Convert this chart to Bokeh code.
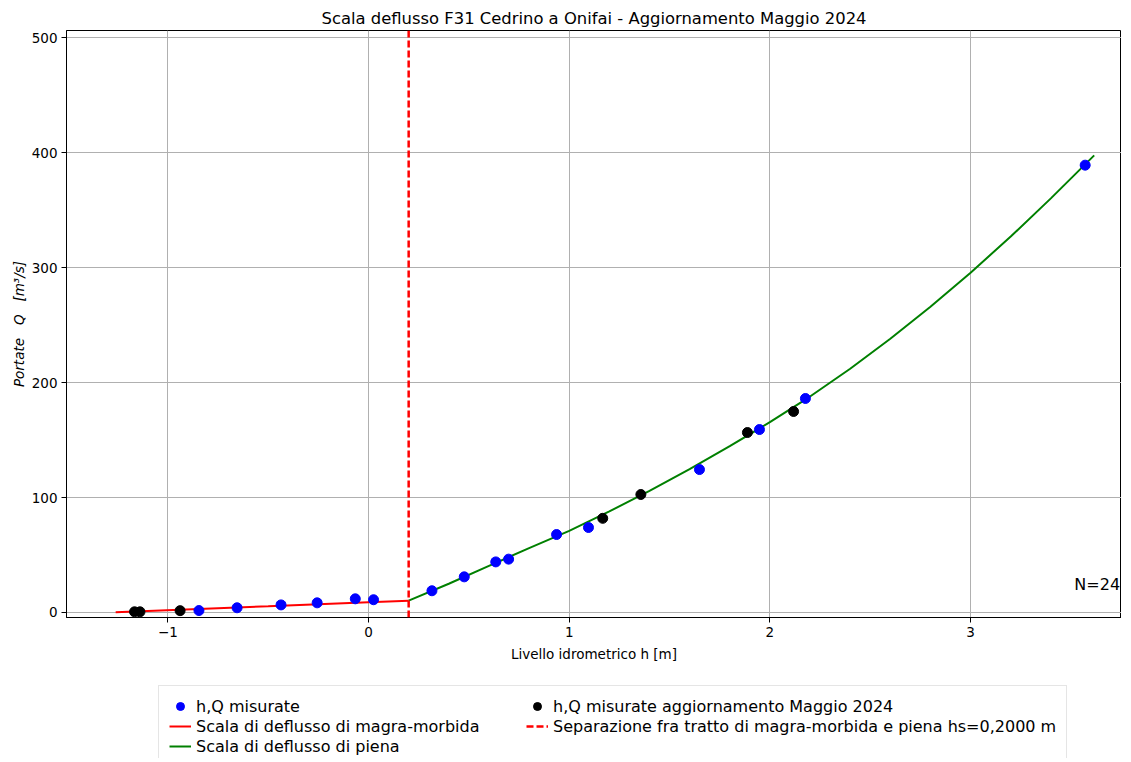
from bokeh.plotting import figure
from bokeh.layouts import column
from bokeh.models import Span, Label, Legend, LegendItem, FixedTicker, Range1d
from bokeh.embed import file_html
from bokeh.resources import INLINE

# ---- data ----
blue_h = [-0.845, -0.655, -0.436, -0.256, -0.066, 0.025, 0.316, 0.477, 0.634, 0.698, 0.937, 1.096, 1.649, 1.948, 2.177, 3.571]
blue_q = [1.7, 4.1, 6.6, 8.4, 11.9, 11.1, 18.9, 31.0, 44.0, 46.4, 67.8, 73.9, 124.3, 159.1, 186.1, 389.0]

black_h = [-1.166, -1.139, -0.939, 1.167, 1.357, 1.888, 2.118]
black_q = [0.6, 0.6, 1.6, 81.9, 102.6, 156.5, 174.8]

low_h = [-1.26, -0.5, 0.0, 0.2]
low_q = [0.3, 5.5, 9.0, 10.3]

high_h = [0.2, 0.4, 0.6, 0.8, 1.0, 1.2, 1.4, 1.6, 1.8, 2.0, 2.2, 2.4, 2.6, 2.8, 3.0, 3.2, 3.4, 3.616]
high_q = [10.3, 25.0, 40.5, 56.0, 71.0, 87.9, 105.8, 124.7, 144.6, 165.5, 187.8, 212.0, 238.0, 265.8, 295.5, 326.9, 360.1, 397.5]

HS = 0.2
N_LABEL = "N=24"
x_ticks = [-1, 0, 1, 2, 3]
y_ticks = [0, 100, 200, 300, 400, 500]

NB = "\u00a0"
TITLE = "Scala deflusso F31 Cedrino a Onifai - Aggiornamento Maggio 2024"
XLABEL = "Livello idrometrico h [m]"
YLABEL = "Portate" + NB * 3 + "Q" + NB * 3 + "[m³/s]"
labels = ["h,Q misurate", "Scala di deflusso di magra-morbida", "Scala di deflusso di piena",
          "h,Q misurate aggiornamento Maggio 2024",
          "Separazione fra tratto di magra-morbida e piena hs=0,2000 m"]

FONT = "DejaVu Sans"
BLUE, BLACK, RED, GREEN = "blue", "black", "red", "green"
DASH = "7 3"
NAN = [float("nan")]

p = figure(width=1121, height=670,
           x_range=Range1d(-1.505, 3.752), y_range=Range1d(-4.35, 506.1),
           output_backend="svg", toolbar_location=None,
           min_border_left=66, min_border_right=0, min_border_top=30, min_border_bottom=53,
           title=TITLE)

p.title.text_font = FONT
p.title.text_font_size = "16.4px"
p.title.text_font_style = "normal"
p.title.align = "center"
p.title.text_color = "black"
p.title.standoff = 6

p.background_fill_color = "white"
p.border_fill_color = "white"
p.outline_line_color = "black"
p.outline_line_alpha = 1.0
p.outline_line_width = 1

for ax in (p.xaxis[0], p.yaxis[0]):
    ax.major_label_text_font = FONT
    ax.major_label_text_font_size = "13.5px"
    ax.major_label_text_color = "black"
    ax.axis_label_text_font = FONT
    ax.axis_label_text_font_size = "13.5px"
    ax.axis_label_text_color = "black"
    ax.axis_line_color = "black"
    ax.major_tick_line_color = "black"
    ax.major_tick_out = 5
    ax.major_tick_in = 0
    ax.minor_tick_line_color = None
    ax.major_label_standoff = 4
    ax.axis_label_standoff = 6

p.yaxis.axis_label_standoff = 2
p.xaxis.ticker = FixedTicker(ticks=x_ticks)
p.yaxis.ticker = FixedTicker(ticks=y_ticks)
p.xaxis.axis_label = XLABEL
p.yaxis.axis_label = YLABEL
p.yaxis.axis_label_text_font_style = "italic"
p.xaxis.axis_label_text_font_style = "normal"

p.grid.grid_line_color = "#b0b0b0"
p.grid.grid_line_width = 1
p.xgrid.ticker = FixedTicker(ticks=x_ticks)
p.ygrid.ticker = FixedTicker(ticks=y_ticks)

p.line(low_h, low_q, line_color=RED, line_width=2)
p.line(high_h, high_q, line_color=GREEN, line_width=2)
p.add_layout(Span(location=HS, dimension="height", line_color=RED, line_width=2.5, line_dash=DASH))
p.scatter(blue_h, blue_q, size=10, fill_color=BLUE, line_color=BLUE)
p.scatter(black_h, black_q, size=10, fill_color=BLACK, line_color=BLACK)

p.add_layout(Label(x=3.745, y=24, text=N_LABEL, text_align="right", text_baseline="middle",
                   text_font=FONT, text_font_size="16px", text_color="black"))

# ---- legend strip below the chart (legend handles only, no drawn data) ----
q = figure(width=1121, height=88, x_range=Range1d(0, 1), y_range=Range1d(0, 1),
           output_backend="svg", toolbar_location=None,
           min_border_left=0, min_border_right=0, min_border_top=0, min_border_bottom=0,
           x_axis_location=None, y_axis_location=None)
q.grid.visible = False
q.outline_line_color = None
q.background_fill_color = "white"
q.border_fill_color = "white"

h_blue = q.scatter(NAN, NAN, size=10, fill_color=BLUE, line_color=BLUE)
h_red = q.line(NAN, NAN, line_color=RED, line_width=2)
h_green = q.line(NAN, NAN, line_color=GREEN, line_width=2)
h_black = q.scatter(NAN, NAN, size=10, fill_color=BLACK, line_color=BLACK)
h_dash = q.line(NAN, NAN, line_color=RED, line_width=2.5, line_dash=DASH)

legend = Legend(items=[
    LegendItem(label=labels[0], renderers=[h_blue]),
    LegendItem(label=labels[1], renderers=[h_red]),
    LegendItem(label=labels[2], renderers=[h_green]),
    LegendItem(label=labels[3], renderers=[h_black]),
    LegendItem(label=labels[4], renderers=[h_dash]),
], ncols=2, location=(92, -9), label_text_font=FONT, label_text_font_size="16px",
    label_text_color="black",
    spacing=0, label_height=20, glyph_height=20, glyph_width=22, label_standoff=5,
    label_width=330, padding=10, margin=0, border_line_color="#cccccc", border_line_width=1,
    background_fill_color="white", background_fill_alpha=1.0)
q.add_layout(legend, "center")

layout = column(p, q, spacing=0)
open("out.html", "w").write(file_html(layout, INLINE))
